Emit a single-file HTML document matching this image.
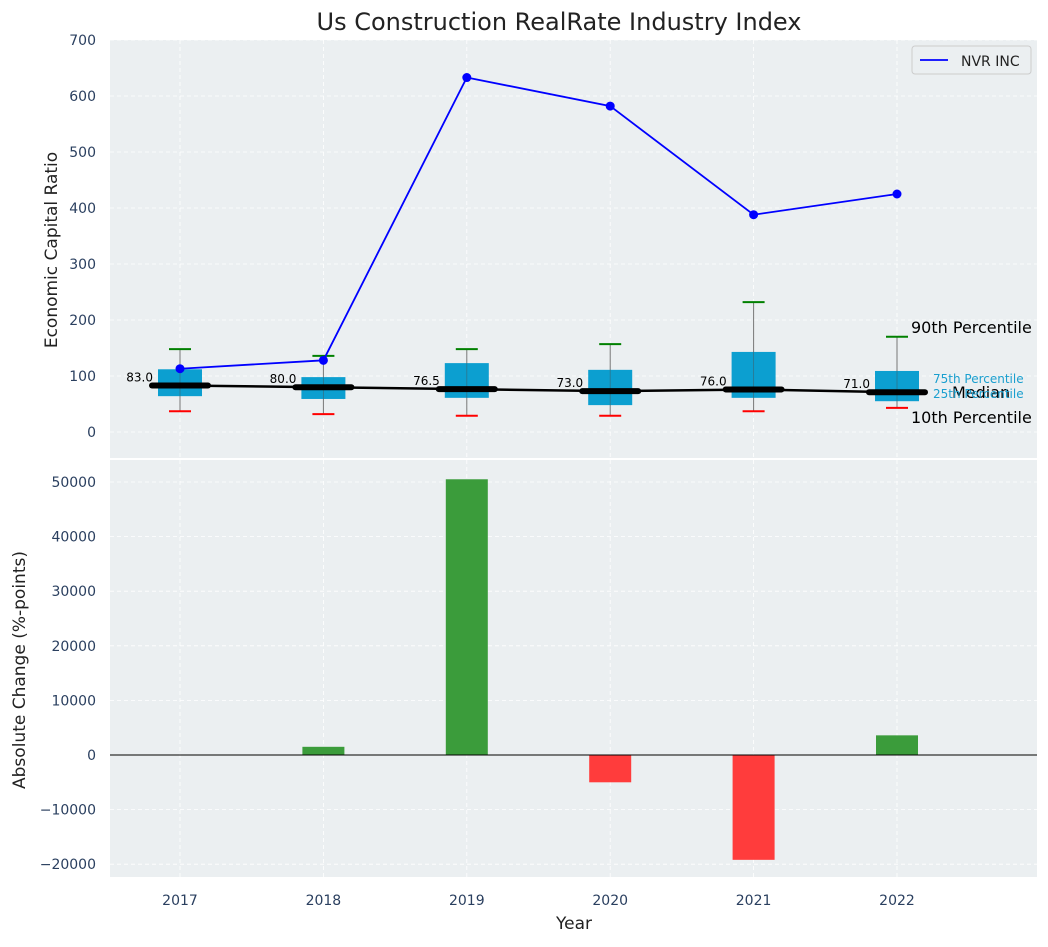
<!DOCTYPE html>
<html><head><meta charset="utf-8"><style>
body{margin:0;background:#fff;font-family:"Liberation Sans","DejaVu Sans",sans-serif;}
text{font-family:"DejaVu Sans","Liberation Sans",sans-serif;}
</style></head><body>
<svg id="chart" width="1048" height="942" xmlns="http://www.w3.org/2000/svg"></svg>
<script>
const years=[2017,2018,2019,2020,2021,2022];
const p10=[37,32,29,29,37,43];
const p25=[64,59,61,48,61,55];
const med=[83,80,76.5,73,76,71];
const p75=[112,98,123,111,143,109];
const p90=[148,136,148,157,232,170];
const nvr=[113,128,633,582,388,425];
const change=[0,1500,50500,-5000,-19200,3600];
const topTicks=[0,100,200,300,400,500,600,700];
const botTicks=[-20000,-10000,0,10000,20000,30000,40000,50000];

const svg=document.getElementById('chart');
const NS='http://www.w3.org/2000/svg';
function el(t,a,p){const e=document.createElementNS(NS,t);for(const k in a)e.setAttribute(k,a[k]);(p||svg).appendChild(e);return e;}
const X=y=>180+(y-2017)*143.4;
const Y1=v=>432-0.56*v;
const Y2=v=>755-0.00546*v;
const tc='#2a3f5f';

let bg1=el('rect',{x:110,y:40,width:927,height:418,fill:'#ebeff1'});


let bg2=el('rect',{x:110,y:460,width:927,height:417,fill:'#ebeff1'});



years.forEach(y=>{
  el('line',{x1:X(y),x2:X(y),y1:40,y2:458,stroke:'#fff','stroke-dasharray':'4,3','stroke-width':0.8});
  el('line',{x1:X(y),x2:X(y),y1:460,y2:877,stroke:'#fff','stroke-dasharray':'4,3','stroke-width':0.8});
});
topTicks.forEach(t=>{
  el('line',{x1:110,x2:1037,y1:Y1(t),y2:Y1(t),stroke:'#fff','stroke-dasharray':'4,3','stroke-width':0.8});
  const tx=el('text',{x:96,y:Y1(t)+5,'text-anchor':'end','font-size':14,fill:tc});tx.textContent=t;
  
  
});
botTicks.forEach(t=>{
  el('line',{x1:110,x2:1037,y1:Y2(t),y2:Y2(t),stroke:'#fff','stroke-dasharray':'4,3','stroke-width':0.8});
  const tx=el('text',{x:96,y:Y2(t)+5,'text-anchor':'end','font-size':14,fill:tc});tx.textContent=(t<0?'\u2212'+(-t):t);
  
  
});
years.forEach(y=>{
  const tx=el('text',{x:X(y),y:905,'text-anchor':'middle','font-size':14,fill:tc});tx.textContent=y;
  
  
});

years.forEach((y,i)=>{
  const x=X(y);
  el('line',{x1:x,x2:x,y1:Y1(p90[i]),y2:Y1(p10[i]),stroke:'#777','stroke-width':1});
  let b=el('rect',{x:x-22,y:Y1(p75[i]),width:44,height:Y1(p25[i])-Y1(p75[i]),fill:'#009ace',opacity:0.95});
  
  
  el('line',{x1:x,x2:x,y1:Y1(p75[i]),y2:Y1(p25[i]),stroke:'#555','stroke-width':0.8,opacity:0.5});
  el('line',{x1:x-11,x2:x+11,y1:Y1(p90[i]),y2:Y1(p90[i]),stroke:'green','stroke-width':2});
  el('line',{x1:x-11,x2:x+11,y1:Y1(p10[i]),y2:Y1(p10[i]),stroke:'red','stroke-width':2});
});
el('polyline',{points:years.map((y,i)=>X(y)+','+Y1(med[i])).join(' '),fill:'none',stroke:'#000','stroke-width':2.5});
years.forEach((y,i)=>{
  const x=X(y);
  let m=el('line',{x1:x-28,x2:x+28,y1:Y1(med[i]),y2:Y1(med[i]),stroke:'#000','stroke-width':6,'stroke-linecap':'round'});
  
  
  const t=el('text',{x:x-27,y:Y1(med[i])-4,'text-anchor':'end','font-size':12,fill:'#000'});t.textContent=med[i].toFixed(1);
  
  
});
let nl=el('polyline',{points:years.map((y,i)=>X(y)+','+Y1(nvr[i])).join(' '),fill:'none',stroke:'#0000ff','stroke-width':1.8});


years.forEach((y,i)=>{
  let c=el('circle',{cx:X(y),cy:Y1(nvr[i]),r:4.5,fill:'#0000ff'});
  
  
});
const lx=X(2022);
[['90th Percentile',lx+14,Y1(p90[5])-4,16,'#000'],['10th Percentile',lx+14,Y1(p10[5])+15,16,'#000'],['Median',lx+55,Y1(med[5])+6,16,'#000'],['75th Percentile',lx+36,Y1(p75[5])+12,12,'#1a9fcf'],['25th Percentile',lx+36,Y1(p25[5])-3,12,'#1a9fcf']].forEach(a=>{
  const t=el('text',{x:a[1],y:a[2],'font-size':a[3],fill:a[4]});t.textContent=a[0];
  
  
});
let lg=el('g',{});


el('rect',{x:912,y:46,width:119,height:28,fill:'#ebeff1',stroke:'#ccc',rx:3},lg);
el('line',{x1:920,x2:948,y1:60,y2:60,stroke:'#0000ff','stroke-width':1.8},lg);
let lt=el('text',{x:961,y:66,'font-size':14,fill:'#222'},lg);lt.textContent='NVR INC';

years.forEach((y,i)=>{
  const v=change[i];if(v===0)return;
  const y0=Y2(0),y1=Y2(v);
  let r=el('rect',{x:X(y)-21,y:Math.min(y0,y1),width:42,height:Math.abs(y1-y0),fill:v>=0?'#3b9c3b':'#ff3c3c'});
  
  
});
el('line',{x1:110,x2:1037,y1:Y2(0),y2:Y2(0),stroke:'#000','stroke-width':1});

let ti=el('text',{x:559,y:30,'text-anchor':'middle','font-size':24,fill:'#222'});ti.textContent='Us Construction RealRate Industry Index';


let ya=el('text',{x:0,y:0,'text-anchor':'middle','font-size':17,fill:'#222',transform:'translate(57,250) rotate(-90)'});ya.textContent='Economic Capital Ratio';


let yb=el('text',{x:0,y:0,'text-anchor':'middle','font-size':17,fill:'#222',transform:'translate(25,670) rotate(-90)'});yb.textContent='Absolute Change (%-points)';


let xa=el('text',{x:574,y:929,'text-anchor':'middle','font-size':17,fill:'#222'});xa.textContent='Year';


</script>
</body></html>
